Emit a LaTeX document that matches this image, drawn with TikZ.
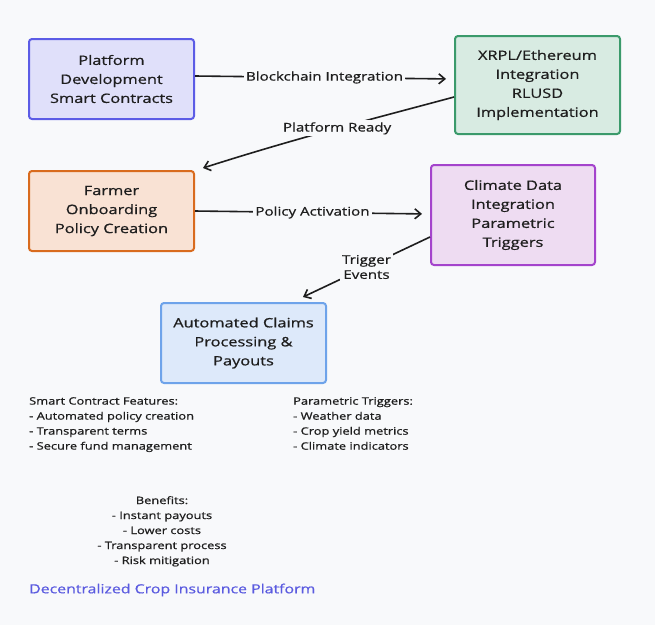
\documentclass[tikz,border=0pt]{standalone}
\usepackage{fontspec}
\setmainfont{Open Sans}[FakeStretch=1.26, FakeBold=0.8]
\usetikzlibrary{arrows.meta}
\definecolor{bg}{HTML}{F8F9FB}
\definecolor{ink}{HTML}{1E1E1E}
\definecolor{f1}{HTML}{E0E0FA}\definecolor{d1}{HTML}{5C5CE6}
\definecolor{f2}{HTML}{D8EBE2}\definecolor{d2}{HTML}{3B9A6B}
\definecolor{f3}{HTML}{F9E2D4}\definecolor{d3}{HTML}{D96B1E}
\definecolor{f4}{HTML}{EEDCF2}\definecolor{d4}{HTML}{A444CC}
\definecolor{f5}{HTML}{DDE9FA}\definecolor{d5}{HTML}{6EA3EA}
\definecolor{titlec}{HTML}{5B5BE0}
\tikzset{
  box/.style={draw, line width=2pt, rounded corners=3pt, inner sep=0pt,
    align=center, font=\fontsize{13}{19}\selectfont, text=ink},
  conn/.style={draw=ink, line width=1.6pt, -{Straight Barb[length=6pt,width=10pt]}},
  elabel/.style={fill=bg, inner sep=2pt, font=\fontsize{12}{15}\selectfont, text=ink, align=center},
  notes/.style={inner sep=0pt, font=\fontsize{10.2}{15}\selectfont, text=ink},
}
\begin{document}
\begin{tikzpicture}[x=1pt,y=-1pt]
\useasboundingbox[fill=bg] (0,0) rectangle (655,625);
\node[box, fill=f1, draw=d1, minimum width=165pt, minimum height=80pt] (b1) at (111.5,79) {Platform\\Development\\Smart Contracts};
\node[box, fill=f2, draw=d2, minimum width=165pt, minimum height=98pt] (b2) at (537.5,85) {XRPL/Ethereum\\Integration\\RLUSD\\Implementation};
\node[box, fill=f3, draw=d3, minimum width=165pt, minimum height=80pt] (b3) at (111.5,211) {Farmer\\Onboarding\\Policy Creation};
\node[box, fill=f4, draw=d4, minimum width=164pt, minimum height=100pt] (b4) at (513,215) {Climate Data\\Integration\\Parametric\\Triggers};
\node[box, fill=f5, draw=d5, minimum width=165pt, minimum height=80pt] (b5) at (243.5,343) {Automated Claims\\Processing \&\\Payouts};

\draw[conn, shorten >=8pt] ([yshift=3pt]b1.east) -- node[elabel] (l1) {Blockchain Integration} ([yshift=6pt]b2.west);
\draw[conn] ([yshift=-12pt]b2.west) .. controls (380,117) and (300,137) .. node[elabel, pos=0.5] (l2) {Platform Ready} ([xshift=8pt,yshift=2pt]b3.north east);
\draw[conn, shorten >=8pt] (b3.east) -- node[elabel] (l3) {Policy Activation} ([yshift=1pt]b4.west);
\draw[conn] ([yshift=-22pt]b4.west) -- node[elabel, pos=0.5] (l4) {Trigger\\Events} ([xshift=59.5pt,yshift=5pt]b5.north);

\node[notes, anchor=north west, align=left] (n1) at (29,397) {Smart Contract Features:\\- Automated policy creation\\- Transparent terms\\- Secure fund management};
\node[notes, anchor=north west, align=left] (n2) at (293,397) {Parametric Triggers:\\- Weather data\\- Crop yield metrics\\- Climate indicators};
\node[notes, anchor=north, align=center] (n3) at (162,496) {Benefits:\\- Instant payouts\\- Lower costs\\- Transparent process\\- Risk mitigation};
\node[inner sep=0pt, anchor=west, font=\fontsize{12.6}{16}\selectfont, text=titlec] (title) at (29,590) {Decentralized Crop Insurance Platform};
\end{tikzpicture}
\end{document}
